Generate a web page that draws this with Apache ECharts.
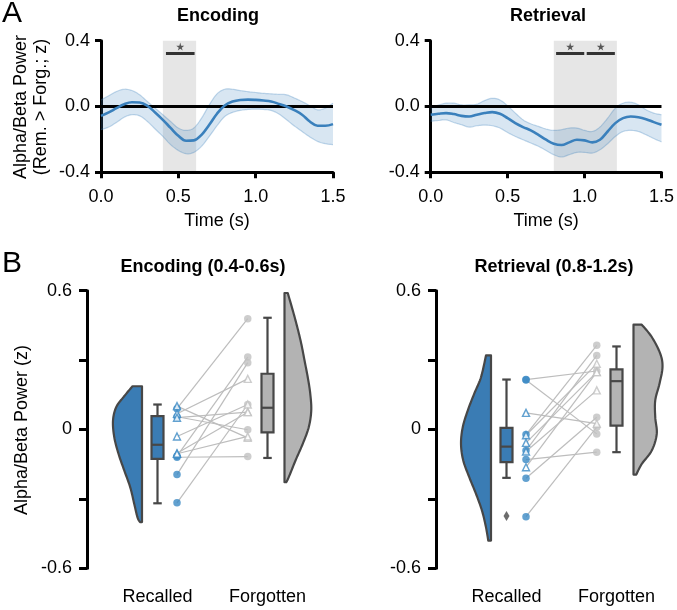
<!DOCTYPE html>
<html><head><meta charset="utf-8">
<script src="https://cdn.jsdelivr.net/npm/echarts@6/dist/echarts.min.js"></script>
<style>html,body{margin:0;padding:0;background:#fff}#c{width:677px;height:610px}</style>
</head><body><div id="c"></div>
<script>
// ---------- Panel A data ----------
const timeSec = [0,0.05,0.1,0.15,0.2,0.25,0.3,0.35,0.4,0.45,0.5,0.55,0.6,0.65,0.7,0.75,0.8,0.85,0.9,0.95,1,1.05,1.1,1.15,1.2,1.25,1.3,1.35,1.4,1.45,1.5];
const encMean  = [-0.057,-0.036,-0.010,0.014,0.026,0.024,0.004,-0.036,-0.081,-0.130,-0.178,-0.208,-0.206,-0.172,-0.111,-0.044,0.006,0.030,0.040,0.042,0.040,0.036,0.030,0.016,0.000,-0.022,-0.050,-0.091,-0.117,-0.117,-0.107];
const encUpper = [0.040,0.065,0.091,0.105,0.097,0.071,0.030,-0.010,-0.050,-0.091,-0.131,-0.145,-0.131,-0.071,0.010,0.077,0.105,0.105,0.097,0.090,0.085,0.080,0.077,0.074,0.071,0.052,0.030,0.005,-0.020,-0.010,0.020];
const encLower = [-0.141,-0.125,-0.097,-0.065,-0.050,-0.057,-0.091,-0.137,-0.182,-0.232,-0.267,-0.287,-0.279,-0.242,-0.182,-0.117,-0.061,-0.036,-0.024,-0.018,-0.016,-0.018,-0.024,-0.045,-0.081,-0.118,-0.152,-0.185,-0.212,-0.226,-0.232];
const retMean  = [-0.050,-0.044,-0.040,-0.046,-0.057,-0.061,-0.050,-0.040,-0.034,-0.044,-0.071,-0.101,-0.125,-0.145,-0.172,-0.202,-0.226,-0.234,-0.218,-0.202,-0.206,-0.218,-0.202,-0.152,-0.101,-0.071,-0.061,-0.065,-0.077,-0.095,-0.111];
const retUpper = [-0.010,0.008,0.020,0.020,0.010,0.010,0.014,0.036,0.050,0.040,0.004,-0.040,-0.081,-0.105,-0.121,-0.137,-0.145,-0.141,-0.131,-0.131,-0.145,-0.152,-0.125,-0.071,-0.010,0.020,0.026,0.010,-0.020,-0.040,-0.050];
const retLower = [-0.090,-0.085,-0.081,-0.097,-0.111,-0.125,-0.117,-0.113,-0.117,-0.131,-0.158,-0.182,-0.202,-0.222,-0.242,-0.267,-0.293,-0.307,-0.293,-0.279,-0.279,-0.283,-0.263,-0.226,-0.182,-0.152,-0.145,-0.152,-0.172,-0.195,-0.215];
const encWindow = [0.4, 0.615];
const retWindow = [0.8, 1.21];
const encSigBars = [[0.42, 0.605]];
const retSigBars = [[0.815, 0.998], [1.014, 1.197]];
const sigLevel = 0.323;
const starLevel = 0.364;

// ---------- Panel B data ----------
// box stats: [min, q1, median, q3, max]
const encRecBox = [-0.319, -0.127, -0.066, 0.058, 0.108];
const encForBox = [-0.123, -0.012, 0.094, 0.241, 0.483];
const retRecBox = [-0.209, -0.141, -0.074, 0.007, 0.216];
const retForBox = [-0.098, 0.017, 0.209, 0.260, 0.359];
const retRecOutliers = [-0.374];
// paired subjects (circles / triangles)
const encRecCirc = [0.090, 0.055, -0.115, -0.120, -0.195, -0.317];
const encForCirc = [0.479, -0.001, 0.313, -0.117, 0.289, 0.108];
const encRecTri  = [0.101, 0.068, 0.051, -0.030, -0.103, -0.105];
const encForTri  = [-0.036, 0.219, 0.075, 0.108, 0.075, -0.030];
const retRecCirc = [0.216, 0.214, -0.022, -0.091, -0.130, -0.211, -0.377];
const retForCirc = [0.253, -0.019, 0.364, 0.320, -0.098, 0.053, 0.010];
const retRecTri  = [0.072, -0.025, -0.058, -0.095, -0.163];
const retForTri  = [0.025, 0.284, 0.248, 0.169, 0.248];
// half-violin profiles: [value, half-width]
const encRecViolin = [[0.187,3.8],[0.14,7.4],[0.097,10.3],[0.039,11.6],[-0.033,11.1],[-0.105,9.4],[-0.177,7.1],[-0.25,4.7],[-0.322,3.1],[-0.38,1.8],[-0.40,0.8]];
const encForViolin = [[0.59,1.3],[0.515,3.3],[0.443,5.1],[0.371,6.7],[0.299,8.0],[0.226,9.3],[0.155,10.3],[0.082,10.7],[0.01,9.7],[-0.062,7.3],[-0.134,4.4],[-0.206,1.7],[-0.228,0.7]];
const retRecViolin = [[0.32,2.0],[0.226,4.0],[0.155,6.7],[0.082,9.3],[0.01,11.3],[-0.062,12.0],[-0.134,11.1],[-0.206,8.7],[-0.278,6.0],[-0.351,3.6],[-0.423,2.0],[-0.48,1.1]];
const retForViolin = [[0.453,3.3],[0.4,7.3],[0.328,10.7],[0.27,11.6],[0.198,10.4],[0.126,8.7],[0.053,8.7],[-0.019,9.3],[-0.091,7.3],[-0.149,3.3],[-0.195,1.1]];
const categories = ['Recalled', 'Forgotten'];

// ---------- layout constants ----------
const FONT = "'Liberation Sans', Arial, Helvetica, sans-serif";
const BLUE = '#3a7cb4', BLUE_DOT = '#3b89c4', GRAY = '#b3b3b3', GRAY_DOT = '#c0c0c0', DARK = '#474747';
const X_REC_VIOLIN = 22, X_REC_BOX = 28.2, X_REC_DOT = 36, X_FOR_DOT = 64.3, X_FOR_BOX = 72.2, X_FOR_VIOLIN = 79;
const LINE_BLUE = '#3a80bc';

function catmull(pts, n) {
  const out = [];
  for (let i = 0; i < pts.length - 1; i++) {
    const p0 = pts[Math.max(i - 1, 0)], p1 = pts[i], p2 = pts[i + 1], p3 = pts[Math.min(i + 2, pts.length - 1)];
    for (let k = 0; k < n; k++) {
      const t = k / n, t2 = t * t, t3 = t2 * t;
      out.push([0, 1].map(j => 0.5 * ((2 * p1[j]) + (-p0[j] + p2[j]) * t + (2 * p0[j] - 5 * p1[j] + 4 * p2[j] - p3[j]) * t2 + (-p0[j] + 3 * p1[j] - 3 * p2[j] + p3[j]) * t3)));
    }
  }
  out.push(pts[pts.length - 1]);
  return out;
}

function timeSeries(idx, mean, upper, lower, win, bars) {
  const s = [];
  s.push({
    type: 'custom', xAxisIndex: idx, yAxisIndex: idx, silent: true, z: 0,
    data: [[win[0], win[1]]],
    renderItem: (params, api) => {
      const a = api.coord([api.value(0), 0.4]), b = api.coord([api.value(1), -0.4]);
      return { type: 'rect', shape: { x: a[0], y: a[1], width: b[0] - a[0], height: b[1] - a[1] }, style: { fill: '#e6e6e6' } };
    }
  });
  s.push({
    type: 'custom', xAxisIndex: idx, yAxisIndex: idx, silent: true, z: 1,
    data: timeSec.map((t, i) => [t, upper[i], lower[i]]), encode: { x: 0, y: 1 },
    renderItem: (params, api) => {
      if (params.dataIndex !== 0) return null;
      const up = catmull(timeSec.map((t, i) => api.coord([t, upper[i]])), 6);
      const lo = catmull(timeSec.map((t, i) => api.coord([t, lower[i]])), 6);
      const edge = { stroke: 'rgba(58,128,188,0.3)', lineWidth: 1.2, fill: null };
      return { type: 'group', children: [
        { type: 'polygon', shape: { points: up.concat(lo.slice().reverse()) }, style: { fill: 'rgba(58,128,188,0.2)' } },
        { type: 'polyline', shape: { points: up }, style: edge },
        { type: 'polyline', shape: { points: lo }, style: edge }
      ] };
    }
  });
  s.push({
    type: 'line', xAxisIndex: idx, yAxisIndex: idx, data: [[0, 0], [1.5, 0]], symbol: 'none', silent: true, z: 3,
    lineStyle: { color: '#000', width: 3 }
  });
  s.push({
    type: 'line', xAxisIndex: idx, yAxisIndex: idx, data: timeSec.map((t, i) => [t, mean[i]]), symbol: 'none',
    smooth: 0.4, silent: true, z: 4, lineStyle: { color: LINE_BLUE, width: 2.6 }
  });
  s.push({
    type: 'lines', coordinateSystem: 'cartesian2d', xAxisIndex: idx, yAxisIndex: idx, silent: true, z: 5,
    data: bars.map(b => ({ coords: [[b[0], sigLevel], [b[1], sigLevel]] })),
    lineStyle: { color: '#333', width: 3, opacity: 1 }
  });
  s.push({
    type: 'scatter', xAxisIndex: idx, yAxisIndex: idx, silent: true, z: 5,
    data: bars.map(b => [(b[0] + b[1]) / 2, starLevel]),
    symbol: 'path://M50,0 L61,35 L98,35 L68,57 L79,91 L50,70 L21,91 L32,57 L2,35 L39,35 Z',
    symbolSize: 8, itemStyle: { color: '#333' }
  });
  return s;
}

function violin(idx, profile, edge, dir, fill) {
  return {
    type: 'custom', xAxisIndex: idx, yAxisIndex: idx, silent: true, z: 3, data: [[edge, profile[0][0]]],
    renderItem: (params, api) => {
      const pts = profile.map(p => api.coord([edge + dir * p[1], p[0]]));
      const curve = catmull(pts, 10);
      const top = api.coord([edge, profile[0][0]]);
      const bot = api.coord([edge, profile[profile.length - 1][0]]);
      return { type: 'polygon', shape: { points: [top].concat(curve, [bot]) },
        style: { fill: fill, stroke: DARK, lineWidth: 2.2, lineJoin: 'round' } };
    }
  };
}

function box(idx, stats, x, fill) {
  return {
    type: 'custom', xAxisIndex: idx, yAxisIndex: idx, silent: true, z: 4,
    data: [[x].concat(stats)], encode: { x: 0, y: 1 },
    renderItem: (params, api) => {
      const cx = api.value(0), hw = 2.4, cw = 1.7;
      const c = (a, b) => api.coord([a, b]);
      const mn = api.value(1), q1 = api.value(2), md = api.value(3), q3 = api.value(4), mx = api.value(5);
      const st = { stroke: DARK, lineWidth: 2.2 };
      const tl = c(cx - hw, q3), br = c(cx + hw, q1);
      const seg = (a, b) => ({ type: 'line', shape: { x1: a[0], y1: a[1], x2: b[0], y2: b[1] }, style: st });
      return { type: 'group', children: [
        seg(c(cx, q3), c(cx, mx)), seg(c(cx, q1), c(cx, mn)),
        seg(c(cx - cw, mx), c(cx + cw, mx)), seg(c(cx - cw, mn), c(cx + cw, mn)),
        { type: 'rect', shape: { x: tl[0], y: tl[1], width: br[0] - tl[0], height: br[1] - tl[1] },
          style: { fill: fill, stroke: DARK, lineWidth: 2.2 } },
        seg(c(cx - hw, md), c(cx + hw, md))
      ] };
    }
  };
}

function pairs(idx, recArr, forArr) {
  return {
    type: 'custom', xAxisIndex: idx, yAxisIndex: idx, silent: true, z: 5,
    data: recArr.map((r, i) => [r, forArr[i]]),
    renderItem: (params, api) => {
      const a = api.coord([X_REC_DOT, api.value(0)]), b = api.coord([X_FOR_DOT, api.value(1)]);
      return { type: 'line', shape: { x1: a[0], y1: a[1], x2: b[0], y2: b[1] },
        style: { stroke: '#bdbdbd', lineWidth: 1.2 } };
    }
  };
}

function dots(idx, x, arr, shape, color) {
  const tri = shape === 'triangle';
  return {
    type: 'scatter', xAxisIndex: idx, yAxisIndex: idx, silent: true, z: tri ? 7 : 6,
    data: arr.map(v => [x, v]), symbol: tri ? 'triangle' : 'circle', symbolSize: tri ? 7 : 7.5,
    itemStyle: tri ? { color: '#fff', borderColor: color, borderWidth: 1.4 } : { color: color }
  };
}

function panelB(idx, recBox, forBox, recV, forV, rc, fc, rt, ft) {
  return [
    violin(idx, recV, X_REC_VIOLIN, -1, BLUE),
    violin(idx, forV, X_FOR_VIOLIN, 1, GRAY),
    box(idx, recBox, X_REC_BOX, BLUE),
    box(idx, forBox, X_FOR_BOX, GRAY),
    pairs(idx, rc, fc), pairs(idx, rt, ft),
    dots(idx, X_REC_DOT, rc, 'circle', BLUE_DOT), dots(idx, X_FOR_DOT, fc, 'circle', GRAY_DOT),
    dots(idx, X_REC_DOT, rt, 'triangle', BLUE_DOT), dots(idx, X_FOR_DOT, ft, 'triangle', GRAY_DOT)
  ];
}

const axisLine = { lineStyle: { color: '#000', width: 3 } };
const lbl = { fontSize: 18, color: '#000', fontFamily: FONT };

function timeX(i) {
  return { gridIndex: i, type: 'value', min: 0, max: 1.5, interval: 0.5,
    name: 'Time (s)', nameLocation: 'middle', nameGap: 40, nameTextStyle: lbl,
    axisLine: Object.assign({ onZero: false }, axisLine),
    axisTick: { length: 6, lineStyle: { color: '#000', width: 3 } },
    axisLabel: Object.assign({ margin: 16, formatter: v => v.toFixed(1) }, lbl),
    splitLine: { show: false } };
}
function timeY(i) {
  return { gridIndex: i, type: 'value', min: -0.4, max: 0.4, interval: 0.4,
    axisLine: Object.assign({ onZero: false }, axisLine),
    axisTick: { length: 6, lineStyle: { color: '#000', width: 3 } },
    axisLabel: Object.assign({ margin: 11, formatter: v => v.toFixed(1) }, lbl),
    splitLine: { show: false } };
}
function catX(i) {
  return { gridIndex: i, type: 'value', min: 0, max: 96,
    axisLine: { show: false }, axisTick: { show: false }, splitLine: { show: false },
    axisLabel: Object.assign({ margin: 20, customValues: [X_REC_BOX, X_FOR_BOX],
      formatter: v => (v < 50 ? categories[0] : categories[1]) }, lbl) };
}
function powY(i) {
  return { gridIndex: i, type: 'value', min: -0.6, max: 0.6, interval: 0.3,
    axisLine: Object.assign({ onZero: false }, axisLine),
    axisTick: { length: 8, lineStyle: { color: '#000', width: 3 } },
    axisLabel: Object.assign({ margin: 15, formatter: v => Math.abs(v - 0.6) < 1e-6 ? '0.6' : Math.abs(v) < 1e-6 ? '0' : Math.abs(v + 0.6) < 1e-6 ? '-0.6' : '' }, lbl),
    splitLine: { show: false } };
}

function txt(text, x, y, size, bold, rot, align) {
  return { type: 'text', x: x, y: y, rotation: rot || 0, silent: true,
    style: { text: text, fill: '#000', font: (bold ? 'bold ' : '') + size + 'px ' + FONT,
      align: align || 'center', verticalAlign: 'middle', textAlign: align || 'center', textVerticalAlign: 'middle', lineHeight: 20 } };
}

const chart = echarts.init(document.getElementById('c'), null, { renderer: 'canvas' });
chart.setOption({
  animation: false,
  backgroundColor: '#fff',
  grid: [
    { left: 101, top: 40.7, width: 232, height: 131.6 },
    { left: 430.7, top: 40.7, width: 232, height: 131.6 },
    { left: 87, top: 290.7, width: 240, height: 277.6 },
    { left: 436, top: 290.7, width: 240, height: 277.6 }
  ],
  xAxis: [timeX(0), timeX(1), catX(2), catX(3)],
  yAxis: [timeY(0), timeY(1), powY(2), powY(3)],
  graphic: [
    txt('A', 2, 14, 30, false, 0, 'left'),
    txt('B', 2, 264, 30, false, 0, 'left'),
    txt('Encoding', 218, 16, 18, true),
    txt('Retrieval', 548, 16, 18, true),
    txt('Encoding (0.4-0.6s)', 203, 267, 18, true),
    txt('Retrieval (0.8-1.2s)', 554, 267, 18, true),
    txt('Alpha/Beta Power\n(Rem. > Forg.; z)', 31, 107, 18, false, Math.PI / 2),
    txt('Alpha/Beta Power (z)', 22, 430, 18, false, Math.PI / 2)
  ],
  series: [].concat(
    timeSeries(0, encMean, encUpper, encLower, encWindow, encSigBars),
    timeSeries(1, retMean, retUpper, retLower, retWindow, retSigBars),
    panelB(2, encRecBox, encForBox, encRecViolin, encForViolin, encRecCirc, encForCirc, encRecTri, encForTri),
    panelB(3, retRecBox, retForBox, retRecViolin, retForViolin, retRecCirc, retForCirc, retRecTri, retForTri),
    [{ type: 'scatter', xAxisIndex: 3, yAxisIndex: 3, silent: true, z: 6,
       data: retRecOutliers.map(v => [X_REC_BOX, v]), symbol: 'diamond', symbolSize: [6, 10],
       itemStyle: { color: DARK } }]
  )
});
</script>
</body></html>
